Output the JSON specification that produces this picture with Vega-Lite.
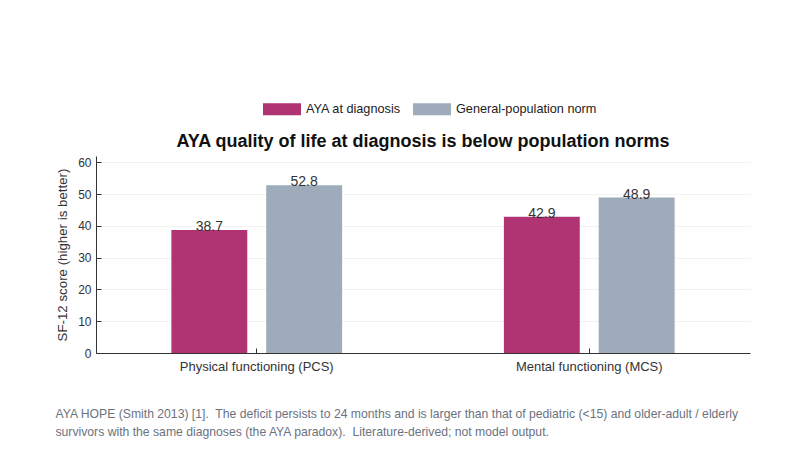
{
  "$schema": "https://vega.github.io/schema/vega-lite/v6.json",
  "autosize": "none",
  "width": 654,
  "height": 197,
  "padding": {"left": 96, "top": 156, "right": 42, "bottom": 105},
  "background": "white",
  "config": {
    "font": "Liberation Sans",
    "view": {"stroke": null},
    "axis": {"labelFont": "Liberation Sans", "titleFont": "Liberation Sans", "labelColor": "#333333", "titleColor": "#333333", "domainColor": "#333333", "tickColor": "#333333"}
  },
  "title": {
    "text": "AYA quality of life at diagnosis is below population norms",
    "fontSize": 18,
    "fontWeight": "bold",
    "color": "#111111",
    "anchor": "middle",
    "frame": "group",
    "baseline": "alphabetic",
    "offset": 7,
    "dy": 82
  },
  "data": {
    "values": [
      {"measure": "Physical functioning (PCS)", "group": "AYA at diagnosis", "score": 38.7},
      {"measure": "Physical functioning (PCS)", "group": "General-population norm", "score": 52.8},
      {"measure": "Mental functioning (MCS)", "group": "AYA at diagnosis", "score": 42.9},
      {"measure": "Mental functioning (MCS)", "group": "General-population norm", "score": 48.9}
    ]
  },
  "encoding": {
    "x": {
      "field": "measure",
      "type": "nominal",
      "sort": ["Physical functioning (PCS)", "Mental functioning (MCS)"],
      "scale": {"paddingInner": 0.4865, "paddingOuter": 0.2267},
      "axis": {
        "labelAngle": 0,
        "labelFontSize": 13,
        "labelPadding": 12,
        "tickSize": -5,
        "domainWidth": 1,
        "title": ["AYA HOPE (Smith 2013) [1].\u00a0 The deficit persists to 24 months and is larger than that of pediatric (<15) and older-adult / elderly", "survivors with the same diagnoses (the AYA paradox).\u00a0 Literature-derived; not model output."],
        "titleFontSize": 12.2,
        "titleFontWeight": "normal",
        "titleColor": "#6b7280",
        "titleAnchor": "start",
        "titleAlign": "left",
        "titleBaseline": "alphabetic",
        "titleX": -41,
        "titleY": 64,
        "titleLineHeight": 18
      }
    },
    "xOffset": {
      "field": "group",
      "type": "nominal",
      "sort": ["AYA at diagnosis", "General-population norm"],
      "scale": {"paddingInner": 0.2, "paddingOuter": 0}
    },
    "y": {
      "field": "score",
      "type": "quantitative",
      "scale": {"domain": [0, 62], "nice": false},
      "axis": {
        "values": [0, 10, 20, 30, 40, 50, 60],
        "title": "SF-12 score (higher is better)",
        "titleFontSize": 13.3,
        "titleFontWeight": "normal",
        "titlePadding": 8,
        "labelFontSize": 12,
        "labelPadding": 10,
        "tickSize": -5,
        "gridColor": "#f2f2f2",
        "grid": true
      }
    }
  },
  "layer": [
    {
      "mark": {"type": "bar"},
      "encoding": {
        "color": {
          "field": "group",
          "type": "nominal",
          "sort": ["AYA at diagnosis", "General-population norm"],
          "scale": {"range": ["#b03473", "#9eabba"]},
          "legend": {
            "title": null,
            "orient": "none",
            "direction": "horizontal",
            "legendX": 167,
            "legendY": -66,
            "symbolType": "M-1,-0.316H1V0.316H-1Z",
            "symbolSize": 1444,
            "symbolStrokeWidth": 0,
            "symbolOpacity": 1,
            "labelFontSize": 12.7,
            "labelColor": "#222222",
            "labelOffset": 5,
            "columnPadding": 12
          }
        }
      }
    },
    {
      "mark": {"type": "text", "baseline": "alphabetic", "dy": 1, "fontSize": 14, "color": "#333333"},
      "encoding": {
        "text": {"field": "score", "type": "quantitative", "format": ".1f"}
      }
    }
  ]
}
